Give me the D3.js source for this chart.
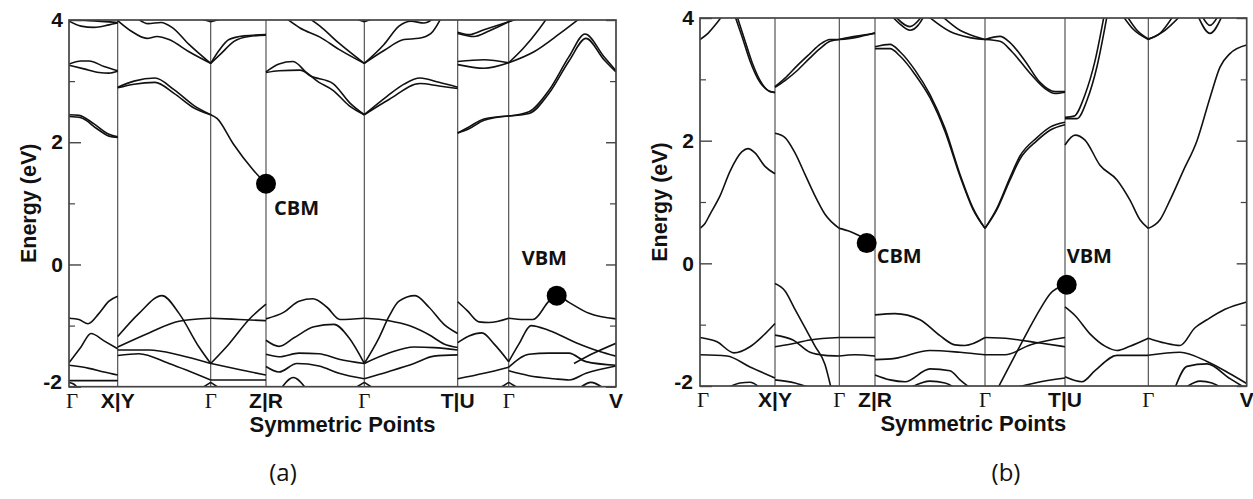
<!DOCTYPE html>
<html>
<head>
<meta charset="utf-8">
<script src="https://cdn.jsdelivr.net/npm/d3@7/dist/d3.min.js"></script>
<style>
  body { margin: 0; background: #fff; }
</style>
</head>
<body>
<svg id="fig" width="1253" height="499"></svg>
<script>
// ---- data (k in path units, E in eV) ----
const yTicks = [-2, 0, 2, 4];
const yMinorTicks = [-1, 1, 3];

const kLabelsA = ["Γ", "X|Y", "Γ", "Z|R", "Γ", "T|U", "Γ", "V"];
const kPosA = [0, 0.487, 1.417, 1.97, 2.953, 3.887, 4.397, 5.47];
const kLabelsB = ["Γ", "X|Y", "Γ", "Z|R", "Γ", "T|U", "Γ", "V"];
const kPosB = [0, 0.75, 1.393, 1.75, 2.85, 3.65, 4.483, 5.467];

const bandsA = [
  // Γ - X
  [[0, 3.98], [0.12, 3.9], [0.25, 3.88], [0.4, 3.92], [0.487, 3.95]],
  [[0, 4.0], [0.2, 3.99], [0.487, 3.96]],
  [[0, 3.28], [0.12, 3.33], [0.2, 3.33], [0.35, 3.24], [0.487, 3.17]],
  [[0, 3.26], [0.15, 3.2], [0.3, 3.14], [0.4, 3.13], [0.487, 3.16]],
  [[0, 2.45], [0.1, 2.44], [0.25, 2.3], [0.4, 2.13], [0.487, 2.09]],
  [[0, 2.42], [0.12, 2.4], [0.28, 2.22], [0.4, 2.1], [0.487, 2.08]],
  [[0, -0.88], [0.1, -0.9], [0.19, -0.97], [0.3, -0.8], [0.4, -0.6], [0.487, -0.52]],
  [[0, -1.61], [0.12, -1.35], [0.22, -1.13], [0.35, -1.25], [0.487, -1.38]],
  [[0, -1.65], [0.2, -1.7], [0.35, -1.76], [0.487, -1.81]],
  [[0, -1.9], [0.487, -1.9]],
  [[0, -1.93], [0.05, -1.96], [0.09, -2.03]],
  // Y - Γ - Z
  [[0.487, 3.99], [0.62, 3.82], [0.78, 3.7], [0.88, 3.73], [1.0, 3.68], [1.2, 3.48], [1.417, 3.29]],
  [[0.68, 4.03], [0.79, 3.94], [0.92, 3.96], [1.03, 3.88], [1.2, 3.6], [1.417, 3.29]],
  [[1.3, 4.03], [1.417, 3.97], [1.55, 4.03]],
  [[1.417, 3.29], [1.5, 3.5], [1.6, 3.68], [1.75, 3.74], [1.97, 3.76]],
  [[1.417, 3.29], [1.52, 3.45], [1.65, 3.65], [1.8, 3.73], [1.97, 3.75]],
  [[0.487, 2.9], [0.65, 3.0], [0.86, 3.05], [1.05, 2.86], [1.25, 2.6], [1.417, 2.45]],
  [[0.487, 2.89], [0.65, 2.95], [0.86, 2.98], [1.05, 2.8], [1.25, 2.56], [1.417, 2.45]],
  [[1.417, 2.45], [1.48, 2.39], [1.64, 1.98], [1.84, 1.55], [1.97, 1.32]],
  [[0.487, -1.18], [0.7, -0.8], [0.93, -0.51], [1.1, -0.8], [1.3, -1.35], [1.417, -1.62]],
  [[1.417, -1.62], [1.6, -1.3], [1.8, -0.9], [1.97, -0.65]],
  [[0.487, -1.35], [0.8, -1.12], [1.1, -0.93], [1.417, -0.88], [1.7, -0.9], [1.97, -0.92]],
  [[0.487, -1.4], [0.8, -1.4], [1.1, -1.48], [1.417, -1.62], [1.7, -1.72], [1.97, -1.81]],
  [[0.487, -1.49], [0.7, -1.46], [1.0, -1.62], [1.417, -1.89]],
  [[1.417, -1.89], [1.97, -1.89]],
  [[1.32, -2.03], [1.417, -1.93], [1.51, -2.03]],
  // R - Γ - T
  [[1.97, 3.15], [2.1, 3.28], [2.24, 3.32], [2.4, 3.1], [2.64, 2.96], [2.81, 2.64], [2.953, 2.45]],
  [[1.97, 3.14], [2.1, 3.17], [2.31, 3.18], [2.5, 2.98], [2.64, 2.85], [2.8, 2.6], [2.953, 2.45]],
  [[2.953, 2.45], [3.18, 2.75], [3.35, 2.95], [3.51, 3.05], [3.7, 2.98], [3.887, 2.9]],
  [[2.953, 2.45], [3.2, 2.7], [3.51, 2.96], [3.7, 2.92], [3.887, 2.88]],
  [[2.17, 4.03], [2.31, 3.87], [2.51, 3.72], [2.7, 3.52], [2.953, 3.29]],
  [[2.4, 4.03], [2.51, 3.9], [2.7, 3.62], [2.953, 3.29]],
  [[2.953, 3.29], [3.15, 3.6], [3.3, 3.9], [3.42, 3.98], [3.55, 3.95], [3.65, 4.03]],
  [[2.953, 3.29], [3.15, 3.5], [3.35, 3.68], [3.5, 3.7], [3.62, 3.78], [3.72, 4.03]],
  [[2.85, 4.03], [2.953, 3.97], [3.05, 4.03]],
  [[1.97, -0.89], [2.15, -0.78], [2.3, -0.6], [2.44, -0.56], [2.58, -0.7], [2.71, -0.9], [2.953, -0.88]],
  [[1.97, -1.24], [2.1, -1.34], [2.25, -1.2], [2.45, -1.02], [2.65, -0.98], [2.8, -1.2], [2.953, -1.62]],
  [[1.97, -1.47], [2.1, -1.51], [2.3, -1.45], [2.5, -1.46], [2.7, -1.55], [2.953, -1.62]],
  [[1.97, -1.67], [2.1, -1.76], [2.28, -1.62], [2.5, -1.66], [2.7, -1.78], [2.953, -1.87]],
  [[2.12, -2.03], [2.243, -1.85], [2.37, -2.03]],
  [[2.953, -1.62], [3.1, -1.2], [3.2, -0.85], [3.3, -0.6], [3.46, -0.51], [3.6, -0.7], [3.75, -0.98], [3.887, -1.13]],
  [[2.953, -0.88], [3.2, -0.92], [3.4, -1.0], [3.6, -1.15], [3.75, -1.3], [3.887, -1.36]],
  [[2.953, -1.62], [3.2, -1.45], [3.45, -1.35], [3.65, -1.36], [3.887, -1.4]],
  [[2.953, -1.87], [3.2, -1.75], [3.45, -1.62], [3.65, -1.5], [3.887, -1.48]],
  [[2.85, -2.03], [2.953, -1.93], [3.05, -2.03]],
  // U - Γ - V
  [[3.887, 3.8], [4.0, 3.76], [4.15, 3.84], [4.397, 3.97], [4.5, 4.03]],
  [[3.887, 3.78], [4.05, 3.73], [4.2, 3.82], [4.397, 3.97], [4.48, 4.03]],
  [[3.887, 3.32], [4.15, 3.35], [4.397, 3.3]],
  [[3.887, 3.27], [4.15, 3.21], [4.397, 3.3]],
  [[4.397, 3.3], [4.55, 3.55], [4.7, 3.85], [4.78, 4.03]],
  [[4.397, 3.3], [4.65, 3.48], [4.91, 3.78], [5.11, 4.03]],
  [[3.887, 2.15], [4.0, 2.25], [4.15, 2.38], [4.397, 2.43], [4.6, 2.5], [4.8, 2.85], [5.0, 3.4], [5.16, 3.77], [5.35, 3.4], [5.47, 3.17]],
  [[3.887, 2.15], [4.0, 2.22], [4.15, 2.36], [4.397, 2.43], [4.6, 2.47], [4.8, 2.8], [5.0, 3.33], [5.17, 3.7], [5.35, 3.35], [5.47, 3.15]],
  [[3.887, -0.61], [3.98, -0.75], [4.1, -0.94], [4.2, -0.95], [4.397, -0.88], [4.55, -0.9], [4.64, -0.9], [4.8, -0.6], [4.877, -0.5], [5.0, -0.62], [5.2, -0.8], [5.47, -0.89]],
  [[3.887, -1.28], [4.0, -1.17], [4.13, -1.12], [4.25, -1.3], [4.397, -1.59]],
  [[4.397, -1.59], [4.5, -1.3], [4.62, -1.0], [4.8, -1.08], [5.07, -1.28], [5.3, -1.42], [5.47, -1.5]],
  [[3.887, -1.87], [4.15, -1.78], [4.397, -1.68], [4.6, -1.47], [4.8, -1.45], [5.0, -1.45], [5.17, -1.59], [5.47, -1.65]],
  [[4.397, -1.74], [4.6, -1.82], [4.85, -1.87], [5.0, -1.89], [5.17, -1.78], [5.47, -1.66]],
  [[5.05, -1.62], [5.25, -1.45], [5.47, -1.29]],
  [[5.1, -2.03], [5.22, -1.93], [5.35, -2.03]],
  [[4.3, -2.03], [4.397, -1.93], [4.5, -2.03]]
];

const bandsB = [
  // Γ - X
  [[0, 3.65], [0.08, 3.75], [0.15, 3.88], [0.22, 4.03]],
  [[0.35, 4.03], [0.42, 3.7], [0.5, 3.3], [0.6, 2.95], [0.68, 2.82], [0.75, 2.78]],
  [[0.37, 4.03], [0.44, 3.68], [0.52, 3.28], [0.62, 2.93], [0.7, 2.8], [0.75, 2.79]],
  [[0, 0.57], [0.05, 0.65], [0.1, 0.8], [0.2, 1.1], [0.3, 1.5], [0.42, 1.82], [0.48, 1.87], [0.55, 1.8], [0.65, 1.58], [0.75, 1.46]],
  [[0, -1.21], [0.17, -1.28], [0.34, -1.46], [0.5, -1.36], [0.65, -1.15], [0.75, -0.98]],
  [[0, -1.49], [0.27, -1.51], [0.5, -1.69], [0.75, -1.87]],
  [[0.28, -2.03], [0.4, -1.95], [0.5, -1.94], [0.6, -2.03]],
  // Y - Γ - Z
  [[0.75, 2.88], [0.85, 3.02], [0.97, 3.22], [1.1, 3.42], [1.2, 3.57], [1.3, 3.65], [1.393, 3.65], [1.55, 3.7], [1.75, 3.75]],
  [[0.75, 2.87], [0.85, 2.98], [0.97, 3.14], [1.1, 3.35], [1.2, 3.5], [1.3, 3.62], [1.393, 3.65], [1.55, 3.68], [1.75, 3.76]],
  [[0.75, 2.12], [0.85, 2.05], [0.95, 1.8], [1.05, 1.45], [1.15, 1.1], [1.25, 0.8], [1.393, 0.57], [1.5, 0.52], [1.63, 0.42], [1.75, 0.33]],
  [[0.75, -0.33], [0.85, -0.45], [0.95, -0.75], [1.05, -1.05], [1.15, -1.35], [1.25, -1.65], [1.31, -2.03]],
  [[0.75, -1.17], [0.93, -1.25], [1.1, -1.45], [1.25, -1.5], [1.393, -1.51], [1.55, -1.49], [1.75, -1.51]],
  [[0.75, -1.36], [0.9, -1.32], [1.1, -1.25], [1.393, -1.21], [1.75, -1.21]],
  [[0.75, -1.9], [0.95, -1.95], [1.1, -2.03]],
  // R - Γ - T
  [[1.75, 3.53], [1.9, 3.57], [2.0, 3.45], [2.15, 3.15], [2.3, 2.75], [2.45, 2.2], [2.6, 1.45], [2.73, 0.9], [2.85, 0.57]],
  [[1.75, 3.5], [1.9, 3.5], [2.0, 3.38], [2.15, 3.08], [2.3, 2.7], [2.45, 2.15], [2.6, 1.42], [2.73, 0.88], [2.85, 0.57]],
  [[2.85, 0.57], [2.97, 0.9], [3.1, 1.4], [3.2, 1.75], [3.37, 2.05], [3.5, 2.22], [3.65, 2.3]],
  [[2.85, 0.57], [2.97, 0.88], [3.1, 1.36], [3.2, 1.7], [3.37, 2.0], [3.5, 2.17], [3.65, 2.26]],
  [[2.28, 4.03], [2.5, 3.78], [2.7, 3.68], [2.85, 3.65], [3.0, 3.7], [3.1, 3.6], [3.25, 3.3], [3.4, 2.95], [3.55, 2.8], [3.65, 2.8]],
  [[2.42, 4.03], [2.6, 3.8], [2.75, 3.7], [2.85, 3.65], [3.0, 3.62], [3.12, 3.45], [3.3, 3.1], [3.45, 2.85], [3.55, 2.77], [3.65, 2.79]],
  [[1.92, 4.03], [2.0, 3.9], [2.1, 3.8], [2.18, 3.88], [2.24, 4.03]],
  [[1.95, 4.03], [2.1, 3.86], [2.22, 4.03]],
  [[2.98, -2.03], [3.15, -1.5], [3.28, -1.1], [3.4, -0.75], [3.5, -0.5], [3.65, -0.35]],
  [[1.75, -0.84], [1.95, -0.82], [2.2, -0.92], [2.4, -1.18], [2.55, -1.33], [2.65, -1.34], [2.85, -1.21], [3.1, -1.23], [3.4, -1.3], [3.65, -1.36]],
  [[1.75, -1.57], [1.95, -1.55], [2.3, -1.42], [2.6, -1.45], [2.85, -1.49], [3.05, -1.49], [3.3, -1.33], [3.65, -1.21]],
  [[1.75, -1.82], [1.9, -1.9], [2.05, -1.93], [2.3, -1.72], [2.5, -1.75], [2.6, -1.9], [2.7, -2.03]],
  [[2.1, -2.03], [2.3, -1.92], [2.45, -1.95], [2.55, -2.03]],
  [[3.15, -2.03], [3.35, -1.95], [3.65, -1.87]],
  // U - Γ - V
  [[3.65, 2.36], [3.77, 2.36], [3.87, 2.66], [3.97, 3.21], [4.07, 4.03]],
  [[3.65, 2.38], [3.74, 2.4], [3.85, 2.75], [3.95, 3.3], [4.04, 4.03]],
  [[3.65, 1.93], [3.75, 2.09], [3.85, 2.01], [4.0, 1.6], [4.17, 1.36], [4.3, 1.03], [4.4, 0.71], [4.483, 0.57], [4.6, 0.71], [4.7, 1.03], [4.83, 1.5], [4.97, 2.0], [5.1, 2.7], [5.2, 3.2], [5.3, 3.42], [5.467, 3.56]],
  [[4.23, 4.03], [4.33, 3.82], [4.483, 3.65], [4.65, 3.8], [4.8, 4.03]],
  [[4.27, 4.03], [4.37, 3.8], [4.483, 3.66], [4.6, 3.75], [4.73, 4.03]],
  [[4.98, 4.03], [5.1, 3.75], [5.22, 4.03]],
  [[5.02, 4.03], [5.1, 3.88], [5.18, 4.03]],
  [[3.65, -0.71], [3.75, -0.85], [3.9, -1.15], [4.05, -1.35], [4.17, -1.42], [4.3, -1.35], [4.483, -1.22], [4.65, -1.3], [4.8, -1.34], [4.95, -1.05], [5.07, -0.92], [5.25, -0.75], [5.467, -0.63]],
  [[3.65, -1.85], [3.82, -1.93], [3.95, -1.75], [4.17, -1.5], [4.483, -1.5], [4.8, -1.45], [5.07, -1.6], [5.3, -1.8], [5.467, -1.96]],
  [[4.75, -2.03], [4.87, -1.68], [5.07, -1.64], [5.3, -1.88], [5.45, -2.03]],
  [[4.85, -2.03], [5.0, -1.92], [5.12, -1.95], [5.22, -2.03]]
];

const cbmA = [1.97, 1.32];
const vbmA = [4.877, -0.51];
const cbmB = [1.667, 0.33];
const vbmB = [3.667, -0.35];

// ---- layout ----
const svg = d3.select("#fig");

const panels = [
  { left: 69, right: 616, top: 20, bottom: 386.7, kPos: kPosA, kLabels: kLabelsA, bands: bandsA,
    cbm: cbmA, vbm: vbmA, cbmOff: [8, 31], vbmOff: [-35, -31], caption: "(a)", captionX: 283, id: "a" },
  { left: 700, right: 1246.7, top: 18, bottom: 386, kPos: kPosB, kLabels: kLabelsB, bands: bandsB,
    cbm: cbmB, vbm: vbmB, cbmOff: [10, 20], vbmOff: [0, -22], caption: "(b)", captionX: 1006, id: "b" }
];

const axisFont = "'Liberation Sans', Arial, sans-serif";

function splitAtPoints(band, kPos) {
  // break a band at the high-symmetry points so kinks stay sharp
  const pieces = [];
  let cur = [band[0]];
  for (let i = 1; i < band.length; i++) {
    cur.push(band[i]);
    const isSym = kPos.some(k => Math.abs(k - band[i][0]) < 1e-6);
    if (isSym && i < band.length - 1) {
      pieces.push(cur);
      cur = [band[i]];
    }
  }
  pieces.push(cur);
  return pieces;
}

panels.forEach(p => {
  const x = d3.scaleLinear().domain([0, p.kPos[p.kPos.length - 1]]).range([p.left, p.right]);
  const y = d3.scaleLinear().domain([-2, 4]).range([p.bottom, p.top]);
  const g = svg.append("g");

  g.append("clipPath").attr("id", "clip-" + p.id)
    .append("rect")
    .attr("x", p.left).attr("y", p.top)
    .attr("width", p.right - p.left).attr("height", p.bottom - p.top);

  // vertical lines at the symmetry points
  g.selectAll("line.sym")
    .data(p.kPos.slice(1, -1))
    .join("line")
    .attr("class", "sym")
    .attr("x1", d => x(d)).attr("x2", d => x(d))
    .attr("y1", p.top).attr("y2", p.bottom)
    .attr("stroke", "#444").attr("stroke-width", 1.1);

  // bands
  const line = d3.line()
    .x(d => x(d[0])).y(d => y(d[1]))
    .curve(d3.curveMonotoneX);
  const pieces = [];
  p.bands.forEach(b => splitAtPoints(b, p.kPos).forEach(s => pieces.push(s)));
  g.append("g").attr("clip-path", "url(#clip-" + p.id + ")")
    .selectAll("path")
    .data(pieces)
    .join("path")
    .attr("d", line)
    .attr("fill", "none")
    .attr("stroke", "#111")
    .attr("stroke-width", 1.6);

  // frame
  g.append("rect")
    .attr("x", p.left).attr("y", p.top)
    .attr("width", p.right - p.left).attr("height", p.bottom - p.top)
    .attr("fill", "none").attr("stroke", "#444").attr("stroke-width", 1.7);

  // y ticks, left and right, pointing inward
  const leftAxis = d3.axisLeft(y).tickValues(yTicks).tickSize(-12).tickPadding(6).tickFormat(d => String(d));
  const ya = g.append("g").attr("transform", `translate(${p.left},0)`).call(leftAxis);
  ya.select(".domain").remove();
  ya.selectAll(".tick line").attr("stroke", "#444").attr("stroke-width", 1.4);
  ya.selectAll(".tick text")
    .attr("font-family", axisFont).attr("font-weight", "bold").attr("font-size", 21).attr("fill", "#111")
    .attr("dx", d => d === -2 ? -1 : 0)
    .attr("dy", d => d === -2 ? "0.1em" : "0.32em");

  const leftMinor = d3.axisLeft(y).tickValues(yMinorTicks).tickSize(-6).tickFormat("");
  const ym = g.append("g").attr("transform", `translate(${p.left},0)`).call(leftMinor);
  ym.select(".domain").remove();
  ym.selectAll(".tick line").attr("stroke", "#444").attr("stroke-width", 1.2);

  const rightAxis = d3.axisRight(y).tickValues(yTicks).tickSize(-10).tickFormat("");
  const yr = g.append("g").attr("transform", `translate(${p.right},0)`).call(rightAxis);
  yr.select(".domain").remove();
  yr.selectAll(".tick line").attr("stroke", "#444").attr("stroke-width", 1.4);
  const rightMinor = d3.axisRight(y).tickValues(yMinorTicks).tickSize(-6).tickFormat("");
  const yrm = g.append("g").attr("transform", `translate(${p.right},0)`).call(rightMinor);
  yrm.select(".domain").remove();
  yrm.selectAll(".tick line").attr("stroke", "#444").attr("stroke-width", 1.2);

  // k-point labels
  g.selectAll("text.klab")
    .data(p.kPos.map((k, i) => ({ k, t: p.kLabels[i] })))
    .join("text")
    .attr("class", "klab")
    .attr("x", (d, i) => x(d.k) + (i === 0 ? 3 : 0))
    .attr("y", p.bottom + 21)
    .attr("text-anchor", "middle")
    .attr("font-family", d => d.t === "Γ" ? "'Liberation Serif', 'Times New Roman', serif" : axisFont)
    .attr("font-weight", d => d.t === "Γ" ? "normal" : "bold")
    .attr("font-size", 21)
    .attr("fill", "#111")
    .text(d => d.t);

  // axis titles
  g.append("text")
    .attr("x", (p.left + p.right) / 2).attr("y", p.bottom + 45)
    .attr("text-anchor", "middle")
    .attr("font-family", axisFont).attr("font-weight", "bold").attr("font-size", 22).attr("fill", "#111")
    .text("Symmetric Points");
  g.append("text")
    .attr("transform", `translate(${p.left - 33},${(p.top + p.bottom) / 2}) rotate(-90)`)
    .attr("text-anchor", "middle")
    .attr("font-family", axisFont).attr("font-weight", "bold").attr("font-size", 21.5).attr("fill", "#111")
    .text("Energy (eV)");

  // CBM / VBM markers
  [[p.cbm, "CBM", p.cbmOff], [p.vbm, "VBM", p.vbmOff]].forEach(([pt, name, off]) => {
    const cx = x(pt[0]), cy = y(pt[1]);
    g.append("circle").attr("cx", cx).attr("cy", cy).attr("r", 10).attr("fill", "#000");
    g.append("text")
      .attr("x", cx + off[0]).attr("y", cy + off[1])
      .attr("font-family", "'Open Sans', sans-serif").attr("font-weight", "bold").attr("font-size", 20)
      .attr("fill", "#111")
      .text(name);
  });

  // caption
  svg.append("text")
    .attr("x", p.captionX).attr("y", 481)
    .attr("text-anchor", "middle")
    .attr("font-family", "'Open Sans', sans-serif").attr("font-size", 24).attr("fill", "#111")
    .text(p.caption);
});
</script>
</body>
</html>
